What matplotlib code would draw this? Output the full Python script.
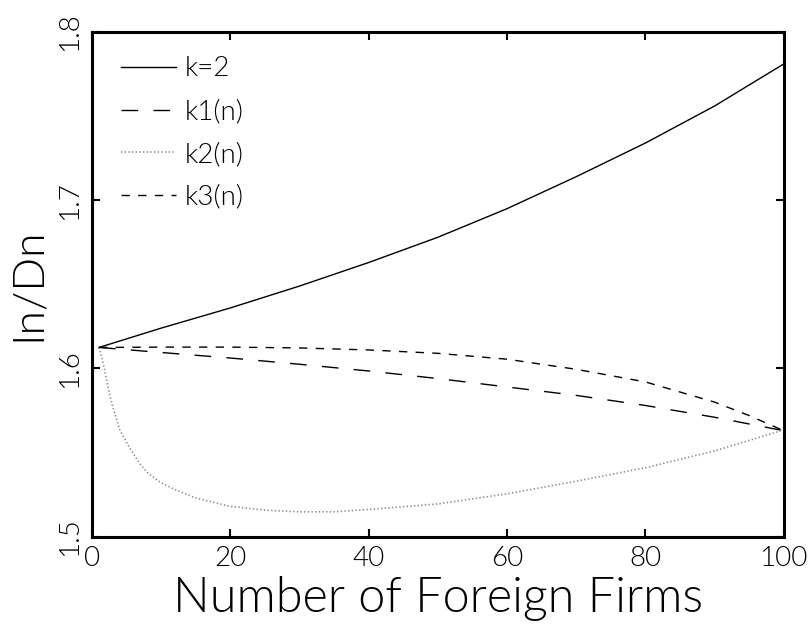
"""Ratio In/Dn against the number of foreign firms, for k=2 and k1..k3(n)."""

import matplotlib
matplotlib.use("Agg")
import matplotlib.pyplot as plt

# values
n_k2 = [1, 10, 20, 30, 40, 50, 60, 70, 80, 90, 100]
val_k2 = [1.6125, 1.624, 1.636, 1.649, 1.663, 1.678, 1.695, 1.714, 1.734, 1.756, 1.781]

n_k1 = [1, 10, 20, 30, 40, 50, 60, 70, 80, 90, 100]
val_k1 = [1.6125, 1.6095, 1.6062, 1.6025, 1.5985, 1.594, 1.589, 1.584, 1.578, 1.571, 1.563]

n_k2n = [1, 1.5, 2, 2.5, 3, 4, 5, 6, 7, 8, 10, 12, 15, 20, 25, 30, 35, 40, 50, 60, 70, 80, 90, 100]
val_k2n = [1.6125, 1.605, 1.595, 1.585, 1.577, 1.5635, 1.556, 1.549, 1.543, 1.538, 1.532,
           1.528, 1.523, 1.518, 1.5158, 1.5148, 1.5148, 1.5162, 1.5195, 1.5255, 1.533,
           1.541, 1.551, 1.5635]

n_k3 = [1, 10, 20, 30, 40, 50, 60, 70, 80, 90, 95, 100]
val_k3 = [1.6125, 1.6127, 1.6127, 1.6122, 1.611, 1.609, 1.6055, 1.5995, 1.592, 1.580, 1.572, 1.563]

x_ticks = [0, 20, 40, 60, 80, 100]
y_ticks = [1.5, 1.6, 1.7, 1.8]

# numeric 300 = Lato-Light ("light" in matplotlib means 200 -> hairline)
plt.rcParams["font.family"] = ["Lato", "DejaVu Sans"]
plt.rcParams["font.weight"] = 300
plt.rcParams["axes.labelweight"] = 300

fig = plt.figure(figsize=(8.08, 6.27), dpi=100)
ax = fig.add_axes([0.114, 0.144, 0.856, 0.805])

ax.plot(n_k2, val_k2, color="black", lw=1.0, label="k=2")
ax.plot(n_k1, val_k1, color="black", lw=1.0, dashes=(12, 11), label="k1(n)")
ax.plot(n_k2n, val_k2n, color="#8a8a8a", lw=1.2, dashes=(0.8, 1.4), label="k2(n)")
ax.plot(n_k3, val_k3, color="black", lw=1.0, dashes=(6, 6), label="k3(n)")

ax.set_xlim(0, 100)
ax.set_ylim(1.5, 1.8)
ax.set_xticks(x_ticks)
ax.set_yticks(y_ticks)
ax.set_xticklabels([str(t) for t in x_ticks])
ax.set_yticklabels([f"{t:.1f}" for t in y_ticks], rotation=90, va="center")

ax.tick_params(direction="in", length=6, width=1.5, top=True, right=True,
               labelsize=20, pad=7)
for s in ax.spines.values():
    s.set_linewidth(2.2)

ax.set_xlabel("Number of Foreign Firms", fontsize=35, labelpad=3)
ax.set_ylabel("In/Dn", fontsize=32, labelpad=7)

ax.legend(loc="upper left", frameon=False, fontsize=20, handlelength=2.0,
          handletextpad=0.3, labelspacing=0.64, borderaxespad=0.3,
          bbox_to_anchor=(0.013, 0.99))

fig.savefig("out.png", dpi=100)
